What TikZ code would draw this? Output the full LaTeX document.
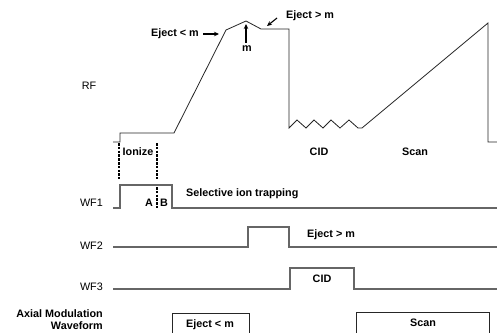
\documentclass[tikz,border=0pt]{standalone}
\usepackage{fontspec}
\setmainfont{Liberation Sans}
\usetikzlibrary{arrows.meta}
\begin{document}
\begin{tikzpicture}[x=1pt,y=-1pt,
  lbl/.style={font=\fontsize{10.8}{12}\selectfont, inner sep=0pt},
  blbl/.style={font=\fontsize{10.8}{12}\selectfont\bfseries, inner sep=0pt},
  rfline/.style={draw=black!85, line width=0.8pt},
  wfline/.style={draw=black!60, line width=1.4pt},
  boxline/.style={draw=black!85, line width=1pt},
  dashline/.style={draw=black, line width=1.3pt, dash pattern=on 2.5pt off 1.3pt},
  arr/.style={draw=black, line width=1.1pt, -{Stealth[length=5pt,width=4.5pt]}}
]
\useasboundingbox (0,0) rectangle (497,332);
\fill[white] (0,0) rectangle (497,332);

% RF trace
\draw[rfline] (113,142) -- (120,142) -- (120,133) -- (174,133) -- (226,30) -- (246,21)
  -- (261,29) -- (289,29) -- (289,128)
  -- (297,120) -- (306,128) -- (314,120) -- (323,128) -- (331,120) -- (340,128)
  -- (349,120) -- (358,128) -- (362,128) -- (488,23) -- (488,142) -- (497,142);

% labels RF
\node[lbl] (rf) at (89,86) {RF};
\node[blbl, anchor=east] (ejl) at (199,34) {Eject < m};
\coordinate (ejlA) at (219,34);
\draw[arr] (ejl.east) ++(4,0) coordinate (ejlS) -- (ejlA);
\node[blbl] (mm) at (247,49) {m};
\coordinate (mtip) at (246,24);
\draw[arr] (mm.north) ++(-1,-3) coordinate (mS) -- (mtip);
\node[blbl, anchor=west] (ejg) at (286,16) {Eject > m};
\coordinate (ejgA) at (267,26);
\draw[arr] (277,18) coordinate (ejgS) -- (ejgA);

\node[blbl] (cidrf) at (319,152) {CID};
\node[blbl] (scanrf) at (415,152) {Scan};

% Ionize dashed lines
\node[blbl] (ion) at (138,152) {Ionize};
\draw[dashline] (119,143) -- (119,179);
\draw[dashline] (157,143) -- (157,179);
\draw[dashline] (157,187) -- (157,208);

% WF1
\node[lbl, anchor=east] (wf1) at (103,203) {WF1};
\draw[wfline] (113,208) -- (120,208) -- (120,185) -- (172,185) -- (172,208) -- (497,208);
\node[blbl] (A) at (149,203) {A};
\node[blbl] (B) at (164,203) {B};
\node[blbl, anchor=west] (sel) at (186,194) {Selective ion trapping};

% WF2
\node[lbl, anchor=east] (wf2) at (103,246) {WF2};
\draw[wfline] (113,247) -- (248,247) -- (248,227) -- (289,227) -- (289,247) -- (497,247);
\node[blbl, anchor=west] (ejg2) at (307,235) {Eject > m};

% WF3
\node[lbl, anchor=east] (wf3) at (103,287) {WF3};
\draw[wfline] (113,289) -- (290,289) -- (290,268) -- (354,268) -- (354,289) -- (497,289);
\node[blbl] (cid3) at (322,279) {CID};

% Axial modulation
\node[blbl, anchor=east, align=right] (axl) at (103,320) {Axial Modulation\\Waveform};
\begin{scope}
\clip (0,0) rectangle (497,332);
\draw[boxline] (172,340) -- (172,313) -- (249,313) -- (249,340);
\draw[boxline] (356,340) -- (356,312) -- (489,312) -- (489,340);
\end{scope}
\node[blbl] (ej3) at (210,325) {Eject < m};
\node[blbl] (scan3) at (423,323) {Scan};
\end{tikzpicture}
\end{document}
